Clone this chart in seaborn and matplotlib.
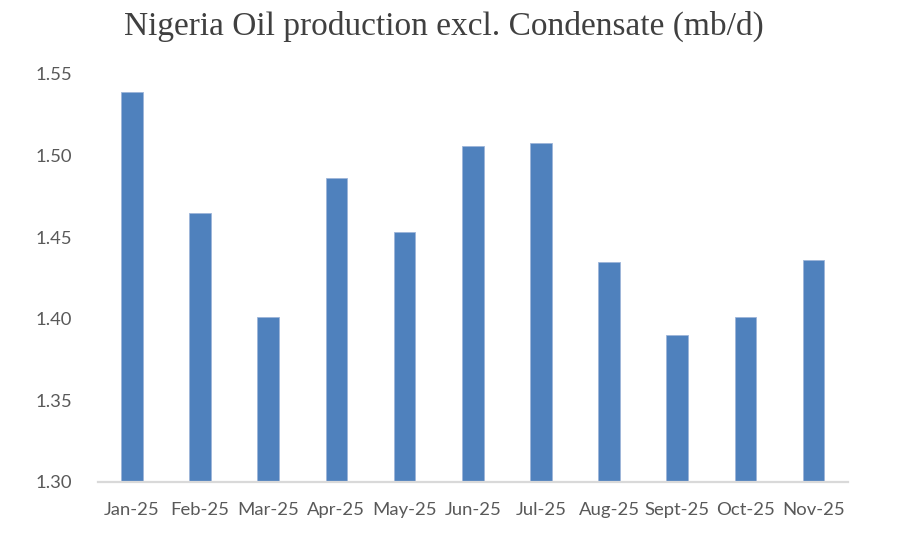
import matplotlib
matplotlib.use("Agg")
import matplotlib.pyplot as plt
import seaborn as sns
import pandas as pd
import numpy as np

months = ["Jan-25", "Feb-25", "Mar-25", "Apr-25", "May-25", "Jun-25",
          "Jul-25", "Aug-25", "Sept-25", "Oct-25", "Nov-25"]
production = [1.539, 1.465, 1.401, 1.486, 1.453, 1.506,
              1.508, 1.435, 1.390, 1.401, 1.436]
y_ticks = [1.30, 1.35, 1.40, 1.45, 1.50, 1.55]
title = "Nigeria Oil production excl. Condensate (mb/d)"

sns.set_theme(style="white")
plt.rcParams['font.family'] = ['Lato', 'DejaVu Sans']

df = pd.DataFrame({"month": months, "value": production})

fig = plt.figure(figsize=(9.09, 5.53), dpi=100)
ax = fig.add_axes([0.1075, 0.1284, 0.8251, 0.7378])

sns.barplot(data=df, x="month", y="value", color="#4F81BD", saturation=1,
            width=0.317, edgecolor="#9db5d9", linewidth=0.6, ax=ax)

ax.set_ylim(1.30, 1.55)
ax.set_xlim(-0.5, len(months) - 0.5)
ax.set_yticks(y_ticks)
ax.set_yticklabels([f"{t:.2f}" for t in y_ticks])
ax.set_xlabel("")
ax.set_ylabel("")

for s in ["top", "right", "left"]:
    ax.spines[s].set_visible(False)
ax.spines["bottom"].set_color("#d9d9d9")
ax.spines["bottom"].set_linewidth(1.6)

ax.set_xticks(np.arange(-0.5, len(months), 1.0), minor=True)
ax.tick_params(axis="x", which="minor", length=5, width=1.4, color="#d9d9d9", direction="out")
ax.tick_params(axis="x", which="major", length=0, pad=14.5, labelsize=13.3, labelcolor="#595959")
ax.tick_params(axis="y", which="major", length=0, pad=18.5, labelsize=13.3, labelcolor="#595959")

fig.text(0.4885, 0.952, title, ha="center", va="center", fontsize=24,
         family=["Liberation Serif", "DejaVu Serif"], color="#404040")

fig.savefig("out.png", dpi=100)
